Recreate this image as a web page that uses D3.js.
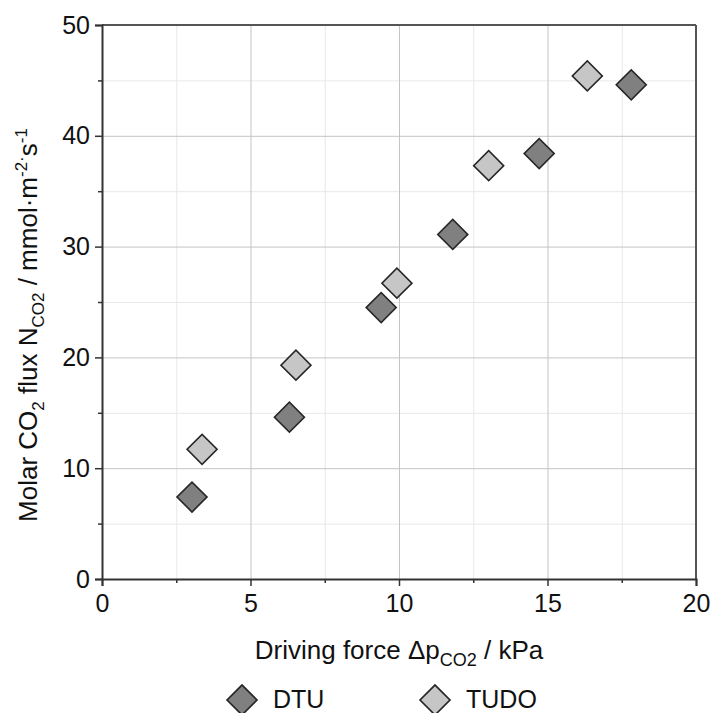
<!DOCTYPE html>
<html>
<head>
<meta charset="utf-8">
<script src="https://cdn.jsdelivr.net/npm/d3@7"></script>
<style>
    body { margin: 0; background: #fff; }
    svg { font-family: "Liberation Sans", Arial, sans-serif; }
</style>
</head>
<body>
<div id="chart"></div>
<script>
// data
var dtuX = [3.03, 6.31, 9.40, 11.81, 14.72, 17.82];
var dtuY = [7.4, 14.6, 24.5, 31.1, 38.4, 44.6];
var tudoX = [3.37, 6.53, 9.93, 13.02, 16.34];
var tudoY = [11.7, 19.3, 26.7, 37.3, 45.4];

var xMajor = [0, 5, 10, 15, 20];
var xMinor = [2.5, 7.5, 12.5, 17.5];
var yMajor = [0, 10, 20, 30, 40, 50];
var yMinor = [5, 15, 25, 35, 45];

var series = [
    {name: 'DTU', xs: dtuX, ys: dtuY, fill: '#808080'},
    {name: 'TUDO', xs: tudoX, ys: tudoY, fill: '#c6c6c6'}
];

var W = 711, H = 713,
    margin = {top: 25, right: 15, bottom: 134, left: 102},
    width = W - margin.left - margin.right,
    height = H - margin.top - margin.bottom;

var svg = d3.select('#chart').append('svg')
    .attr('width', W)
    .attr('height', H);

var g = svg.append('g')
    .attr('transform', 'translate(' + margin.left + ',' + margin.top + ')');

var x = d3.scaleLinear().domain([0, 20]).range([0, width]);
var y = d3.scaleLinear().domain([0, 50]).range([height, 0]);

/////// GRID
function grid(axis, cls, color) {
    var gg = g.append('g').attr('class', cls).call(axis);
    gg.select('.domain').remove();
    gg.selectAll('text').remove();
    gg.selectAll('line').attr('stroke', color).attr('stroke-width', 1);
    return gg;
}
grid(d3.axisBottom(x).tickValues(xMinor).tickSize(-height), 'gx-minor', '#e8e8e8')
    .attr('transform', 'translate(0,' + height + ')');
grid(d3.axisLeft(y).tickValues(yMinor).tickSize(-width), 'gy-minor', '#e8e8e8');
grid(d3.axisBottom(x).tickValues([5, 10, 15]).tickSize(-height), 'gx-major', '#c4c4c4')
    .attr('transform', 'translate(0,' + height + ')');
grid(d3.axisLeft(y).tickValues([10, 20, 30, 40]).tickSize(-width), 'gy-major', '#c4c4c4');

// frame top / right
g.append('line').attr('x1', 0).attr('x2', width).attr('y1', 0).attr('y2', 0)
    .attr('stroke', '#555').attr('stroke-width', 2);
g.append('line').attr('x1', width).attr('x2', width).attr('y1', 0).attr('y2', height)
    .attr('stroke', '#555').attr('stroke-width', 2);

/////// AXES
var xAxis = g.append('g')
    .attr('transform', 'translate(0,' + height + ')')
    .call(d3.axisBottom(x).tickValues(xMajor).tickSize(7).tickPadding(8));
var yAxis = g.append('g')
    .call(d3.axisLeft(y).tickValues(yMajor).tickSize(7).tickPadding(5));
g.append('g').attr('transform', 'translate(0,' + height + ')')
    .call(d3.axisBottom(x).tickValues(xMinor).tickSize(4).tickFormat(''))
    .select('.domain').remove();
g.append('g')
    .call(d3.axisLeft(y).tickValues(yMinor).tickSize(4).tickFormat(''))
    .select('.domain').remove();

g.selectAll('.domain').attr('stroke', '#333').attr('stroke-width', 2);
g.selectAll('.tick line').filter(function () {
    return this.parentNode.parentNode.getAttribute('class') === null;
}).attr('stroke', '#333').attr('stroke-width', 1.5);
[xAxis, yAxis].forEach(function (a) {
    a.selectAll('text')
        .attr('fill', '#111')
        .style('font-size', '25px')
        .style('font-family', '"Liberation Sans", Arial, sans-serif');
});

/////// POINTS
var diamond = d3.symbol().type(d3.symbolSquare).size(450);
series.forEach(function (s) {
    g.append('g').attr('class', 'pts-' + s.name)
        .selectAll('path')
        .data(s.xs.map(function (v, i) { return {x: v, y: s.ys[i]}; }))
        .enter().append('path')
        .attr('d', diamond)
        .attr('transform', function (d) {
            return 'translate(' + x(d.x) + ',' + y(d.y) + ') rotate(45)';
        })
        .attr('fill', s.fill)
        .attr('stroke', '#262626')
        .attr('stroke-width', 1.6);
});

/////// TITLES
var xt = svg.append('text')
    .attr('x', margin.left + width / 2)
    .attr('y', 659)
    .attr('text-anchor', 'middle')
    .attr('fill', '#111')
    .style('font-size', '26px');
xt.append('tspan').text('Driving force \u0394p');
xt.append('tspan').attr('dy', 7).style('font-size', '18px').text('CO2');
xt.append('tspan').attr('dy', -7).text(' / kPa');

var yt = svg.append('text')
    .attr('transform', 'translate(37,' + 325 + ') rotate(-90)')
    .attr('text-anchor', 'middle')
    .attr('fill', '#111')
    .style('font-size', '26px');
yt.append('tspan').text('Molar CO');
yt.append('tspan').attr('dy', 7).style('font-size', '17px').text('2');
yt.append('tspan').attr('dy', -7).text(' flux N');
yt.append('tspan').attr('dy', 7).style('font-size', '17px').text('CO2');
yt.append('tspan').attr('dy', -7).text(' / mmol\u00b7m');
yt.append('tspan').attr('dy', -10).style('font-size', '17px').text('-2\u00b7');
yt.append('tspan').attr('dy', 10).text('s');
yt.append('tspan').attr('dy', -10).style('font-size', '17px').text('-1');

/////// LEGEND
var legX = [242, 435];
series.forEach(function (s, i) {
    svg.append('path')
        .attr('d', diamond)
        .attr('transform', 'translate(' + legX[i] + ',700) rotate(45)')
        .attr('fill', s.fill)
        .attr('stroke', '#262626')
        .attr('stroke-width', 1.6);
    svg.append('text')
        .attr('x', legX[i] + 31)
        .attr('y', 708)
        .attr('fill', '#111')
        .style('font-size', '25px')
        .text(s.name);
});
</script>
</body>
</html>
